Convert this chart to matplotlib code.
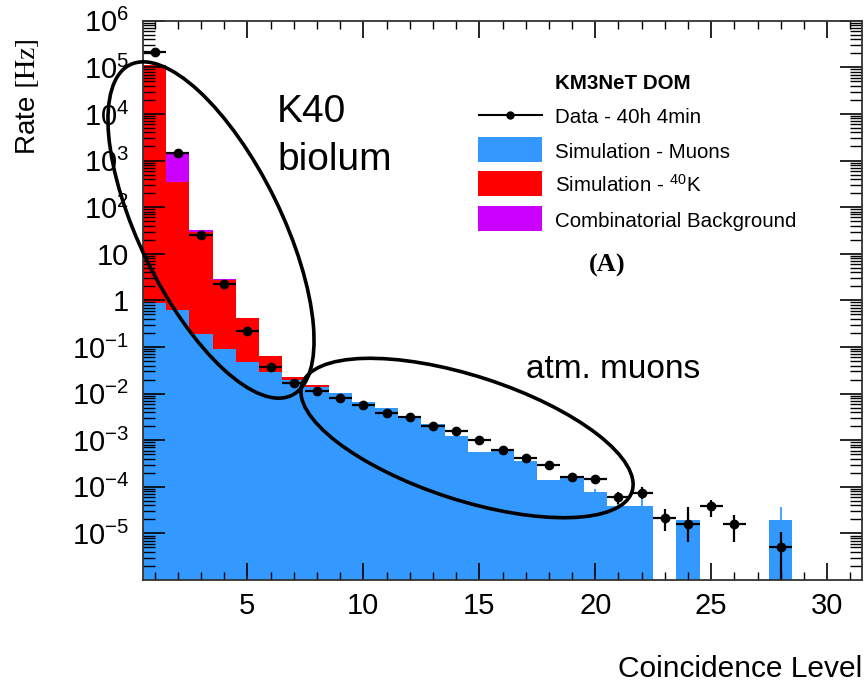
"""
KM3NeT DOM coincidence level rates: data vs stacked simulation.
"""
import numpy as np
import matplotlib
matplotlib.use("Agg")
import matplotlib.pyplot as plt
from matplotlib.patches import Ellipse, Rectangle
from matplotlib.lines import Line2D
from matplotlib.ticker import FixedLocator, FixedFormatter, MultipleLocator, LogLocator, NullFormatter

plt.rcParams['font.family'] = ['Liberation Sans', 'DejaVu Sans']
plt.rcParams['mathtext.fontset'] = 'stix'

# ---- data (rates in Hz per coincidence level) ----
levels = np.arange(1, 32)          # bins 1 .. 31
muons = [0.89, 0.62, 0.19, 0.091, 0.048, 0.029, 0.020, 0.014, 0.0102, 0.0066,
         0.0048, 0.0033, 0.0022, 0.0012, 5.5e-4, 6.5e-4, 3.5e-4, 1.4e-4, 1.6e-4, 7.6e-5,
         3.9e-5, 3.9e-5, 0, 1.9e-5, 0, 0, 0, 1.9e-5, 0, 0, 0]
k40 = [1.1e5, 339, 29.3, 2.7, 0.36, 0.036, 0.003, 0.001] + [0] * 23
combinatorial = [0, 1110, 3.5, 0.1] + [0] * 27
muon_err = [0] * 19 + [1.5e-5, 1.6e-5, 1.6e-5, 0, 1.8e-5, 0, 0, 0, 1.8e-5, 0, 0, 0]

data_x = [1, 2, 3, 4, 5, 6, 7, 8, 9, 10, 11, 12, 13, 14, 15, 16, 17, 18, 19, 20,
          21, 22, 23, 24, 25, 26, 28]
data_y = [2.1e5, 1470, 25.7, 2.2, 0.22, 0.037, 0.0166, 0.0112, 0.0081, 0.0058,
          0.0039, 0.0031, 0.0020, 0.00155, 0.0010, 6.2e-4, 4.1e-4, 3.0e-4, 1.62e-4, 1.45e-4,
          5.9e-5, 7.4e-5, 2.1e-5, 1.6e-5, 3.8e-5, 1.6e-5, 5.2e-6]
data_err_up = [0] * 10 + [1.5e-4, 1.3e-4, 1.0e-4, 0.9e-4, 0.8e-4, 0.6e-4, 0.5e-4, 0.45e-4,
                          2.0e-5, 2.1e-5, 1.9e-5, 2.4e-5, 1.3e-5, 2.1e-5, 1.45e-5, 0.85e-5, 5.5e-6]
data_err_down = [0] * 10 + [1.5e-4, 1.3e-4, 1.0e-4, 0.9e-4, 0.8e-4, 0.6e-4, 0.5e-4, 0.45e-4,
                            2.1e-5, 2.2e-5, 1.6e-5, 1.9e-5, 1.0e-5, 0.95e-5, 1.6e-5, 0.95e-5, 5.19e-6]

y_ticks = [1e6, 1e5, 1e4, 1e3, 1e2, 10, 1, 1e-1, 1e-2, 1e-3, 1e-4, 1e-5]
y_tick_labels = [r'$\mathregular{10^{6}}$', r'$\mathregular{10^{5}}$', r'$\mathregular{10^{4}}$',
                 r'$\mathregular{10^{3}}$', r'$\mathregular{10^{2}}$', '10', '1',
                 r'$\mathregular{10^{-1}}$', r'$\mathregular{10^{-2}}$', r'$\mathregular{10^{-3}}$',
                 r'$\mathregular{10^{-4}}$', r'$\mathregular{10^{-5}}$']
x_ticks = [5, 10, 15, 20, 25, 30]

COL_MU = '#3399ff'
COL_K40 = '#ff0000'
COL_COMB = '#cc00ff'

W, H = 865, 684
fig = plt.figure(figsize=(W / 100, H / 100), dpi=100)
ax = fig.add_axes([143 / W, 1 - 580 / H, (862 - 143) / W, (580 - 20.7) / H])


def fx(px):
    return px / W


def fy(py):
    return 1 - py / H


# ---- stacked histogram (drawn back to front as cumulative totals) ----
floor = 1e-8
edges = np.append(levels - 0.5, levels[-1] + 0.5)
mu = np.array(muons)
tot_k40 = mu + np.array(k40)
tot_all = tot_k40 + np.array(combinatorial)
for tops, col in [(tot_all, COL_COMB), (tot_k40, COL_K40), (mu, COL_MU)]:
    vals = np.where(tops > 0, tops, floor)
    ax.stairs(vals, edges, baseline=floor, fill=True, color=col, linewidth=0)

# MC error bars on muon simulation (visible only in sparse bins)
me = np.array(muon_err)
sel = me > 0
ax.vlines(levels[sel], mu[sel], mu[sel] + me[sel], color='#4da6ff', lw=1.5)

# ---- data points ----
ax.errorbar(data_x, data_y, xerr=0.5, yerr=[data_err_down, data_err_up],
            fmt='o', color='black', ms=6, lw=1.6, capsize=0, zorder=5)

ax.set_yscale('log')
ax.set_xlim(0.5, 31.5)
ax.set_ylim(1e-6, 1e6)

ax.yaxis.set_major_locator(FixedLocator(y_ticks))
ax.yaxis.set_major_formatter(FixedFormatter(y_tick_labels))
ax.yaxis.set_minor_locator(LogLocator(base=10, subs=np.arange(2, 10), numticks=30))
ax.yaxis.set_minor_formatter(NullFormatter())
ax.xaxis.set_major_locator(FixedLocator(x_ticks))
ax.xaxis.set_minor_locator(MultipleLocator(1))

ax.tick_params(axis='both', which='both', direction='in', top=True, right=True, color='black')
ax.tick_params(axis='y', which='major', length=16, width=1.2, labelsize=21, pad=10)
ax.tick_params(axis='y', which='minor', length=8.5, width=1.0)
ax.tick_params(axis='x', which='major', length=12, width=1.2, labelsize=21, pad=9)
ax.tick_params(axis='x', which='minor', length=6, width=1.0)
for sp in ax.spines.values():
    sp.set_linewidth(1.3)
    sp.set_color('#333333')
    sp.set_zorder(6)

# ---- axis titles ----
fig.text(fx(28), fy(38), r'Rate $\mathrm{[Hz]}$', rotation=90, ha='center', va='top', fontsize=20)
fig.text(fx(862), fy(677), 'Coincidence Level', ha='right', va='baseline', fontsize=21.5)

# ---- legend (hand placed, ROOT style) ----
fig.text(fx(555), fy(89), 'KM3NeT DOM', fontsize=14.8, fontweight='bold', va='baseline')
entries = [(123, 'Data - 40h 4min', None),
           (158, 'Simulation - Muons', COL_MU),
           (192, r'Simulation - $^{\mathregular{40}}$K', COL_K40),
           (227, 'Combinatorial Background', COL_COMB)]
for base, label, col in entries:
    fig.text(fx(555), fy(base), label, fontsize=14.8, va='baseline')
    if col is None:
        fig.add_artist(Line2D([fx(479), fx(542)], [fy(115), fy(115)], color='black', lw=1.5,
                              transform=fig.transFigure))
        fig.add_artist(Line2D([fx(510)], [fy(115)], marker='o', ms=5, color='black',
                              transform=fig.transFigure))
    else:
        fig.add_artist(Rectangle((fx(478), fy(base + 4)), fx(64), 25 / H, facecolor=col,
                                 edgecolor='none', transform=fig.transFigure))
fig.text(fx(607), fy(272), '(A)', fontsize=19, fontweight='bold', family='Liberation Serif',
         ha='center', va='baseline')

# ---- annotations: ellipses and labels (positions in inches on the figure) ----
tr = fig.dpi_scale_trans
fig.add_artist(Ellipse((211 / 100, (H - 230) / 100), 368 / 100, 142 / 100, angle=-63.9,
                       fill=False, edgecolor='black', lw=2.6, transform=tr, zorder=10))
fig.add_artist(Ellipse((467 / 100, (H - 438) / 100), 347 / 100, 124 / 100, angle=-18,
                       fill=False, edgecolor='black', lw=2.6, transform=tr, zorder=10))
fig.text(fx(277), fy(122), 'K40', fontsize=28, va='baseline')
fig.text(fx(277), fy(170), 'biolum', fontsize=28, va='baseline')
fig.text(fx(526), fy(378), 'atm. muons', fontsize=24, va='baseline')

fig.savefig('out.png', dpi=100, facecolor='white')
